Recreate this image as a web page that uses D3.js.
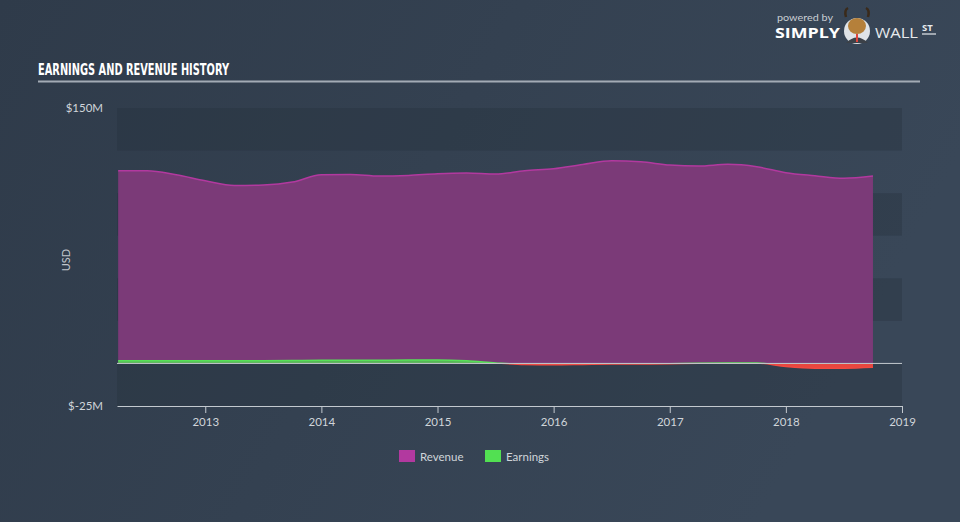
<!DOCTYPE html>
<html><head><meta charset="utf-8">
<script src="https://cdn.jsdelivr.net/npm/d3@7"></script>
<style>
html,body{margin:0;padding:0;background:#333f4f;}
svg{display:block;}
</style></head>
<body>
<svg id="chart" width="960" height="522"></svg>
<script>
const dates = [2012.25,2012.5,2012.75,2013,2013.25,2013.5,2013.75,2014,2014.25,2014.5,2014.75,2015,2015.25,2015.5,2015.75,2016,2016.25,2016.5,2016.75,2017,2017.25,2017.5,2017.75,2018,2018.25,2018.5,2018.75];
const revenue = [113.2,113.2,110.8,107.3,104.5,104.8,106.5,110.8,111,110,110.4,111.4,111.8,111.2,113.2,114.3,116.8,119,118.4,116.5,115.9,116.9,115.5,112,110.2,108.7,110];
const earnings = [1.5,1.5,1.5,1.5,1.5,1.6,1.7,1.8,1.8,1.9,2.0,2.0,1.5,0.3,-0.6,-0.8,-0.6,-0.4,-0.3,-0.2,0.1,0.2,0.2,-1.8,-2.8,-2.8,-2.3];
const yearTicks = [2013,2014,2015,2016,2017,2018,2019];
const yTickValues = [150,-25];
const yTickLabels = ["$150M","$-25M"];
const bandStarts = [150,100,50,0];
const legendItems = ["Revenue","Earnings"];

const svg = d3.select("#chart");
const defs = svg.append("defs");
const bg = defs.append("linearGradient").attr("id","bg").attr("x1","0").attr("y1","0").attr("x2","1").attr("y2","0.3");
bg.append("stop").attr("offset","0").attr("stop-color","#2f3b4a");
bg.append("stop").attr("offset","1").attr("stop-color","#394758");
svg.append("rect").attr("width",960).attr("height",522).attr("fill","url(#bg)");

const x = d3.scaleLinear().domain([2012.24,2019]).range([117,902]);
const y = d3.scaleLinear().domain([-25,150]).range([406,108]);

// bands
svg.append("g").selectAll("rect").data(bandStarts).join("rect")
  .attr("x",x(2012.24)).attr("width",x(2019)-x(2012.24))
  .attr("y",d=>y(d)).attr("height",d=>y(d-25)-y(d))
  .attr("fill","#25303d").attr("opacity",0.35);

// title
svg.append("text").attr("x",38).attr("y",75).text("EARNINGS AND REVENUE HISTORY")
  .attr("fill","#ffffff").attr("font-family","'DejaVu Sans Condensed','Liberation Sans Narrow',sans-serif")
  .attr("font-weight","bold").attr("font-size",16).attr("textLength",191).attr("lengthAdjust","spacingAndGlyphs");
svg.append("line").attr("x1",38).attr("x2",920).attr("y1",81.5).attr("y2",81.5)
  .attr("stroke","#a3abb5").attr("stroke-width",2);

// logo
const logo = svg.append("g");
logo.append("text").attr("x",777).attr("y",21).text("powered by").attr("fill","#c9ced4")
  .attr("font-family","Lato, sans-serif").attr("font-size",10).attr("textLength",56).attr("lengthAdjust","spacingAndGlyphs");
logo.append("text").attr("x",775).attr("y",38).text("SIMPLY").attr("fill","#ffffff")
  .attr("font-family","'Open Sans', sans-serif").attr("font-weight","bold").attr("font-size",14.5).attr("textLength",65).attr("lengthAdjust","spacingAndGlyphs");
logo.append("circle").attr("cx",857).attr("cy",31).attr("r",13).attr("fill","#dfe3e7");
logo.append("ellipse").attr("cx",857).attr("cy",26).attr("rx",9).attr("ry",8).attr("fill","#b5803a");
logo.append("path").attr("d","M846,17 Q844,10 848,8 M868,17 Q870,10 866,8").attr("stroke","#3a2a1a").attr("stroke-width",2.5).attr("fill","none");
logo.append("path").attr("d","M846,43 Q857,32 868,43 Z").attr("fill","#3c4148");
logo.append("rect").attr("x",856).attr("y",34).attr("width",2).attr("height",8).attr("fill","#e0443c");
logo.append("text").attr("x",875).attr("y",38).text("WALL").attr("fill","#e6e9ec")
  .attr("font-family","'Open Sans', sans-serif").attr("font-size",14.5).attr("textLength",43).attr("lengthAdjust","spacingAndGlyphs");
logo.append("text").attr("x",922).attr("y",31).text("ST").attr("fill","#e6e9ec")
  .attr("font-family","'Open Sans', sans-serif").attr("font-weight","bold").attr("font-size",9.5);
logo.append("line").attr("x1",922).attr("x2",936).attr("y1",34).attr("y2",34).attr("stroke","#e6e9ec").attr("stroke-width",1.2);

// revenue area
const area = d3.area().x((d,i)=>x(dates[i])).y0(y(0)).y1(d=>y(d)).curve(d3.curveMonotoneX);
const line = d3.line().x((d,i)=>x(dates[i])).y(d=>y(d)).curve(d3.curveMonotoneX);
svg.append("path").datum(revenue).attr("d",area).attr("fill","#7b3a78");
svg.append("path").datum(revenue).attr("d",line).attr("fill","none").attr("stroke","#b2399f").attr("stroke-width",1.5);

// earnings with pos/neg clip
defs.append("clipPath").attr("id","pos").append("rect").attr("x",0).attr("y",0).attr("width",960).attr("height",y(0));
defs.append("clipPath").attr("id","neg").append("rect").attr("x",0).attr("y",y(0)).attr("width",960).attr("height",200);
const eg = svg.append("g");
eg.append("path").datum(earnings).attr("d",area).attr("fill","#4fd64f").attr("opacity",0.8).attr("clip-path","url(#pos)");
eg.append("path").datum(earnings).attr("d",area).attr("fill","#e8473f").attr("clip-path","url(#neg)");
eg.append("path").datum(earnings).attr("d",line).attr("fill","none").attr("stroke","#58e058").attr("stroke-width",1.5).attr("clip-path","url(#pos)");
eg.append("path").datum(earnings).attr("d",line).attr("fill","none").attr("stroke","#f04a42").attr("stroke-width",1.5).attr("clip-path","url(#neg)");

// zero line
svg.append("line").attr("x1",x(2012.24)).attr("x2",x(2019)).attr("y1",y(0)).attr("y2",y(0))
  .attr("stroke","#c3c9cf").attr("stroke-width",1);

// x axis
const xAxis = d3.axisBottom(x).tickValues(yearTicks).tickFormat(d3.format("d")).tickSize(7).tickSizeOuter(0);
const xg = svg.append("g").attr("transform",`translate(0,${y(-25)})`).call(xAxis);
xg.select(".domain").attr("stroke","#c3c9cf");
xg.selectAll(".tick line").attr("stroke","#c3c9cf");
xg.selectAll(".tick text").attr("fill","#d0d5da").attr("font-family","Lato, 'Open Sans', sans-serif").attr("font-size",11.5).attr("dy","0.9em");

// y labels
svg.append("g").selectAll("text").data(yTickValues).join("text")
  .attr("x",103).attr("y",d=>y(d)).attr("dy","0.35em").attr("text-anchor","end")
  .text((d,i)=>yTickLabels[i]).attr("fill","#d0d5da").attr("font-family","Lato, 'Open Sans', sans-serif").attr("font-size",11.5);
svg.append("text").attr("transform","translate(70,260) rotate(-90)").attr("text-anchor","middle")
  .text("USD").attr("fill","#c0c6cc").attr("font-family","Lato, 'Open Sans', sans-serif").attr("font-size",11);

// legend
const legColors = ["#b2399f","#52e052"];
const legX = [399,485];
const lg = svg.append("g").selectAll("g").data(legendItems).join("g")
  .attr("transform",(d,i)=>`translate(${legX[i]},450)`);
lg.append("rect").attr("width",16).attr("height",12).attr("fill",(d,i)=>legColors[i]);
lg.append("text").attr("x",21).attr("y",10.5).text(d=>d).attr("fill","#d0d5da")
  .attr("font-family","Lato, 'Open Sans', sans-serif").attr("font-size",11.5);
</script>
</body></html>
